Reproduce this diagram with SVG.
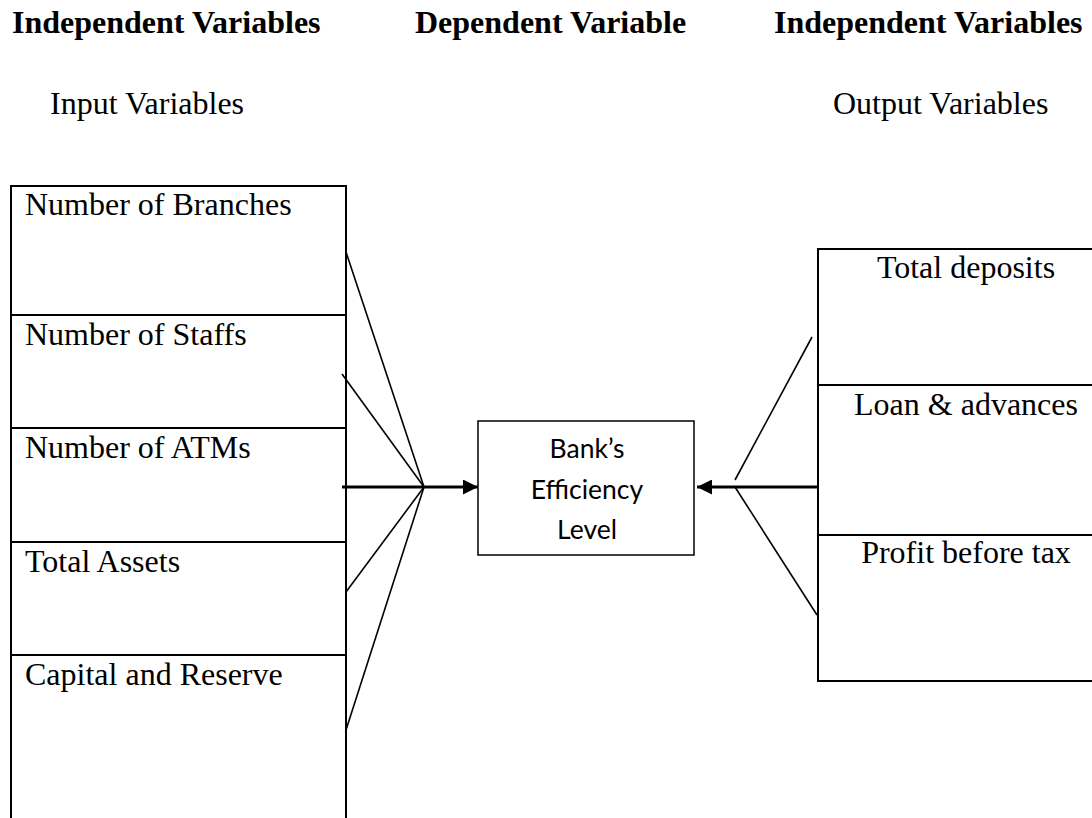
<svg xmlns="http://www.w3.org/2000/svg" width="1092" height="818" viewBox="0 0 1092 818">
  <style>
    .serif { font-family: "Liberation Serif", "Times New Roman", serif; font-size: 32px; fill: #000; }
    .head { font-weight: bold; }
    .sans { font-family: Lato, "Open Sans", "Liberation Sans", sans-serif; font-size: 26.5px; fill: #000; }
    .box { fill: none; stroke: #000; stroke-width: 2; }
    .thin { fill: none; stroke: #000; stroke-width: 1.5; }
    .conn { fill: none; stroke: #000; stroke-width: 1.6; }
    .main { fill: none; stroke: #000; stroke-width: 3; }
  </style>
  <defs>
    <marker id="arrow" viewBox="0 0 10 10" refX="10" refY="5" markerWidth="5.5" markerHeight="5" orient="auto" markerUnits="strokeWidth">
      <path d="M0,0 L10,5 L0,10 Z" fill="#000"/>
    </marker>
  </defs>
  <rect width="1092" height="818" fill="#fff"/>

  <!-- column headings -->
  <g id="headings">
    <text class="serif head" x="12" y="33">Independent Variables</text>
    <text class="serif head" x="415" y="33">Dependent Variable</text>
    <text class="serif head" x="774" y="33">Independent Variables</text>
    <text class="serif" x="50" y="114">Input Variables</text>
    <text class="serif" x="833" y="114">Output Variables</text>
  </g>

  <!-- input variables column -->
  <g id="inputs">
    <path class="box" d="M11,830 V186 H346 V830"/>
    <line class="box" x1="11" y1="315" x2="346" y2="315"/>
    <line class="box" x1="11" y1="428" x2="346" y2="428"/>
    <line class="box" x1="11" y1="542" x2="346" y2="542"/>
    <line class="box" x1="11" y1="655" x2="346" y2="655"/>
    <text class="serif" x="25" y="215">Number of Branches</text>
    <text class="serif" x="25" y="345">Number of Staffs</text>
    <text class="serif" x="25" y="458">Number of ATMs</text>
    <text class="serif" x="25" y="572">Total Assets</text>
    <text class="serif" x="25" y="685">Capital and Reserve</text>
  </g>

  <!-- dependent variable -->
  <g id="efficiency">
    <rect class="thin" x="478" y="421" width="216" height="134"/>
    <text class="sans" x="587" y="458" text-anchor="middle">Bank’s</text>
    <text class="sans" x="587" y="499" text-anchor="middle">Efficiency</text>
    <text class="sans" x="587" y="539" text-anchor="middle">Level</text>
  </g>

  <!-- output variables column -->
  <g id="outputs">
    <path class="box" d="M1100,249 H818 V681 H1100"/>
    <line class="box" x1="818" y1="385" x2="1100" y2="385"/>
    <line class="box" x1="818" y1="535" x2="1100" y2="535"/>
    <text class="serif" x="966" y="278" text-anchor="middle">Total deposits</text>
    <text class="serif" x="966" y="415" text-anchor="middle">Loan &amp; advances</text>
    <text class="serif" x="966" y="563" text-anchor="middle">Profit before tax</text>
  </g>

  <!-- connectors -->
  <g id="connectors">
    <line class="conn" x1="346" y1="252" x2="424" y2="487"/>
    <line class="conn" x1="342" y1="374" x2="424" y2="487"/>
    <line class="conn" x1="346" y1="592" x2="424" y2="487"/>
    <line class="conn" x1="346" y1="730" x2="424" y2="487"/>
    <line class="main" x1="342" y1="487" x2="478" y2="487" marker-end="url(#arrow)"/>

    <line class="conn" x1="812" y1="337" x2="735" y2="480"/>
    <line class="conn" x1="735" y1="487" x2="817" y2="615"/>
    <line class="main" x1="818" y1="487" x2="697" y2="487" marker-end="url(#arrow)"/>
  </g>
</svg>
